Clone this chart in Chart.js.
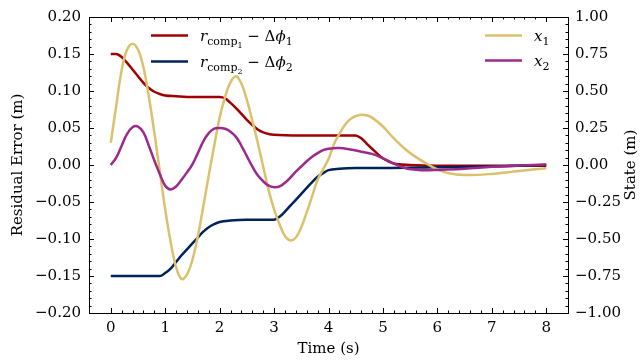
<!DOCTYPE html>
<html>
<head>
<meta charset="utf-8">
<script src="https://cdn.jsdelivr.net/npm/chart.js@4"></script>
<style>
  body { margin: 0; background: #fff; }
  #wrap { width: 644px; height: 360px; position: relative; }
</style>
</head>
<body>
<div id="wrap"><canvas id="residualChart"></canvas></div>
<script>
// tick positions
const xTicks = [0, 1, 2, 3, 4, 5, 6, 7, 8];
const leftTicks = [-0.2, -0.15, -0.1, -0.05, 0, 0.05, 0.1, 0.15, 0.2];
const rightTicks = [-1, -0.75, -0.5, -0.25, 0, 0.25, 0.5, 0.75, 1];

// r_comp1 - dphi1 (left axis)
const timeR1 = [0, 0.1, 0.2, 0.3, 0.4, 0.5, 0.6, 0.7, 0.8, 0.9, 1.0, 1.2, 1.5, 2.0, 2.1, 2.2, 2.3, 2.4, 2.5, 2.6, 2.7, 2.8, 2.9, 3.0, 3.5, 4.0, 4.5, 4.6, 4.7, 4.8, 4.9, 5.0, 5.1, 5.2, 5.5, 6, 7, 8];
const residual1 = [0.150, 0.150, 0.146, 0.138, 0.129, 0.120, 0.111, 0.104, 0.099, 0.096, 0.094, 0.093, 0.092, 0.092, 0.090, 0.084, 0.077, 0.069, 0.061, 0.054, 0.048, 0.044, 0.042, 0.041, 0.040, 0.040, 0.040, 0.036, 0.029, 0.022, 0.015, 0.009, 0.005, 0.002, 0.000, -0.001, -0.001, -0.001];

// r_comp2 - dphi2 (left axis)
const timeR2 = [0, 0.9, 1.0, 1.1, 1.2, 1.3, 1.4, 1.5, 1.6, 1.7, 1.8, 1.9, 2.0, 2.2, 2.5, 3.0, 3.1, 3.2, 3.3, 3.4, 3.5, 3.6, 3.7, 3.8, 3.9, 4.0, 4.2, 4.5, 5, 6, 7, 8];
const residual2 = [-0.150, -0.150, -0.146, -0.140, -0.131, -0.122, -0.114, -0.106, -0.098, -0.090, -0.084, -0.080, -0.077, -0.075, -0.074, -0.074, -0.070, -0.063, -0.055, -0.047, -0.039, -0.031, -0.023, -0.016, -0.011, -0.007, -0.005, -0.004, -0.004, -0.003, -0.002, 0.000];

// x1 (right axis)
const timeX1 = [0, 0.1, 0.2, 0.3, 0.4, 0.5, 0.6, 0.7, 0.8, 0.9, 1.0, 1.1, 1.2, 1.3, 1.4, 1.5, 1.6, 1.7, 1.8, 1.9, 2.0, 2.1, 2.2, 2.3, 2.4, 2.5, 2.6, 2.7, 2.8, 2.9, 3.0, 3.1, 3.2, 3.3, 3.4, 3.5, 3.6, 3.7, 3.8, 3.9, 4.0, 4.1, 4.2, 4.3, 4.4, 4.5, 4.6, 4.7, 4.8, 5.0, 5.2, 5.4, 5.6, 5.8, 6.0, 6.2, 6.5, 7.0, 7.5, 8.0];
const state1 = [0.15, 0.40, 0.64, 0.78, 0.82, 0.78, 0.66, 0.46, 0.22, -0.04, -0.30, -0.52, -0.69, -0.77, -0.74, -0.64, -0.48, -0.28, -0.07, 0.13, 0.32, 0.46, 0.56, 0.60, 0.55, 0.44, 0.30, 0.15, -0.01, -0.17, -0.30, -0.40, -0.48, -0.51, -0.49, -0.42, -0.32, -0.21, -0.10, -0.03, 0.04, 0.14, 0.21, 0.27, 0.31, 0.33, 0.34, 0.336, 0.32, 0.26, 0.18, 0.11, 0.055, 0.01, -0.03, -0.055, -0.068, -0.06, -0.04, -0.022];

// x2 (right axis)
const timeX2 = [0, 0.1, 0.2, 0.3, 0.4, 0.5, 0.6, 0.7, 0.8, 0.9, 1.0, 1.1, 1.2, 1.3, 1.4, 1.5, 1.6, 1.7, 1.8, 1.9, 2.0, 2.1, 2.2, 2.3, 2.4, 2.5, 2.6, 2.7, 2.8, 2.9, 3.0, 3.1, 3.2, 3.3, 3.4, 3.5, 3.6, 3.7, 3.8, 3.9, 4.0, 4.2, 4.4, 4.6, 4.8, 5.0, 5.2, 5.4, 5.6, 5.8, 6.0, 6.5, 7.0, 7.5, 8.0];
const state2 = [0.00, 0.05, 0.13, 0.21, 0.255, 0.26, 0.22, 0.13, 0.03, -0.06, -0.14, -0.165, -0.145, -0.10, -0.05, 0.005, 0.08, 0.16, 0.215, 0.245, 0.25, 0.245, 0.225, 0.19, 0.13, 0.06, -0.01, -0.07, -0.11, -0.14, -0.15, -0.145, -0.12, -0.085, -0.045, -0.01, 0.025, 0.055, 0.08, 0.10, 0.11, 0.115, 0.105, 0.09, 0.075, 0.045, 0.01, -0.02, -0.032, -0.036, -0.033, -0.025, -0.012, -0.004, 0.003];

const FONT = "DejaVu Serif";

function toPoints(times, vals) {
  return times.map((t, i) => ({ x: t, y: vals[i] }));
}

function fmt(v) {
  return v.toFixed(2).replace("-", "\u2212");
}

// draws a list of text pieces one after another (used for the math legend labels)
function drawMath(ctx, x, y, parts) {
  parts.forEach((p) => {
    ctx.font = (p.italic ? "italic " : "") + p.size + "px '" + FONT + "'";
    ctx.fillText(p.t, x, y + (p.dy || 0));
    x += ctx.measureText(p.t).width;
  });
}

const frameAndLabels = {
  id: "frameAndLabels",
  afterDraw(chart) {
    const ctx = chart.ctx;
    const a = chart.chartArea;
    const xs = chart.scales.x;
    const yl = chart.scales.y;
    const yr = chart.scales.y2;
    ctx.save();
    ctx.strokeStyle = "#000";
    ctx.lineWidth = 1;
    ctx.strokeRect(a.left + 0.5, a.top + 0.5, a.right - a.left, a.bottom - a.top);

    const major = 5, minor = 2.5;
    ctx.beginPath();
    // x ticks, bottom and top
    for (let v = 0; v <= 8.0001; v += 0.2) {
      const px = Math.round(xs.getPixelForValue(v)) + 0.5;
      const isMajor = Math.abs(v - Math.round(v)) < 1e-6;
      const len = isMajor ? major : minor;
      ctx.moveTo(px, a.bottom);
      ctx.lineTo(px, a.bottom - len);
      ctx.moveTo(px, a.top);
      ctx.lineTo(px, a.top + len);
    }
    // left ticks
    for (let i = -20; i <= 20; i++) {
      const v = i / 100;
      const py = Math.round(yl.getPixelForValue(v)) + 0.5;
      const len = i % 5 === 0 ? major : minor;
      ctx.moveTo(a.left, py);
      ctx.lineTo(a.left + len, py);
    }
    // right ticks
    for (let i = -20; i <= 20; i++) {
      const v = i / 20;
      const py = Math.round(yr.getPixelForValue(v)) + 0.5;
      const len = i % 5 === 0 ? major : minor;
      ctx.moveTo(a.right, py);
      ctx.lineTo(a.right - len, py);
    }
    ctx.stroke();

    // axis titles
    ctx.fillStyle = "#000";
    ctx.font = "15px '" + FONT + "'";
    ctx.textAlign = "center";
    ctx.textBaseline = "middle";
    ctx.fillText("Time (s)", (a.left + a.right) / 2, 349);
    ctx.save();
    ctx.translate(18, (a.top + a.bottom) / 2);
    ctx.rotate(-Math.PI / 2);
    ctx.fillText("Residual Error (m)", 0, 0);
    ctx.restore();
    ctx.save();
    ctx.translate(631, (a.top + a.bottom) / 2);
    ctx.rotate(-Math.PI / 2);
    ctx.fillText("State (m)", 0, 0);
    ctx.restore();

    // legends
    ctx.textAlign = "left";
    ctx.textBaseline = "alphabetic";
    const legend = [
      { color: "#a00000", x: 151, y: 35.5, parts: [
        { t: "r", italic: true, size: 15 },
        { t: "comp", size: 11, dy: 4 },
        { t: "1", size: 8, dy: 7 },
        { t: " \u2212 \u0394", size: 15 },
        { t: "\u03d5", italic: true, size: 15 },
        { t: "1", size: 11, dy: 4 }
      ] },
      { color: "#00235c", x: 151, y: 61.5, parts: [
        { t: "r", italic: true, size: 15 },
        { t: "comp", size: 11, dy: 4 },
        { t: "2", size: 8, dy: 7 },
        { t: " \u2212 \u0394", size: 15 },
        { t: "\u03d5", italic: true, size: 15 },
        { t: "2", size: 11, dy: 4 }
      ] },
      { color: "#dcc06c", x: 485, y: 35.5, parts: [
        { t: "x", italic: true, size: 15 },
        { t: "1", size: 11, dy: 4 }
      ] },
      { color: "#9c2a8a", x: 485, y: 60.5, parts: [
        { t: "x", italic: true, size: 15 },
        { t: "2", size: 11, dy: 4 }
      ] }
    ];
    legend.forEach((e) => {
      ctx.strokeStyle = e.color;
      ctx.lineWidth = 2.5;
      ctx.beginPath();
      ctx.moveTo(e.x, e.y);
      ctx.lineTo(e.x + 37, e.y);
      ctx.stroke();
      ctx.fillStyle = "#000";
      drawMath(ctx, e.x + 49, e.y + 5, e.parts);
    });
    ctx.restore();
  }
};

const tickFont = { family: FONT, size: 15 };

new Chart(document.getElementById("residualChart").getContext("2d"), {
  type: "line",
  data: {
    datasets: [
      {
        label: "r_comp1 - dphi1",
        data: toPoints(timeR1, residual1),
        borderColor: "#a00000",
        cubicInterpolationMode: "monotone",
        yAxisID: "y",
        order: 4,
      },
      {
        label: "r_comp2 - dphi2",
        data: toPoints(timeR2, residual2),
        borderColor: "#00235c",
        cubicInterpolationMode: "monotone",
        yAxisID: "y",
        order: 3,
      },
      {
        label: "x1",
        data: toPoints(timeX1, state1),
        borderColor: "#dcc06c",
        tension: 0.4,
        yAxisID: "y2",
        order: 2,
      },
      {
        label: "x2",
        data: toPoints(timeX2, state2),
        borderColor: "#9c2a8a",
        tension: 0.4,
        yAxisID: "y2",
        order: 1,
      },
    ],
  },
  options: {
    responsive: true,
    maintainAspectRatio: false,
    animation: false,
    layout: { padding: { top: 15, left: 0, right: 0, bottom: 0 } },
    elements: {
      point: { radius: 0 },
      line: { borderWidth: 2.5, fill: false },
    },
    plugins: {
      legend: { display: false },
      tooltip: { enabled: false },
    },
    scales: {
      x: {
        type: "linear",
        min: -0.4,
        max: 8.4,
        grid: { display: false, drawTicks: false },
        border: { display: false },
        afterBuildTicks: (s) => { s.ticks = xTicks.map((v) => ({ value: v })); },
        afterFit: (s) => { s.height = 47; },
        ticks: { color: "#000", font: tickFont, padding: 6, maxRotation: 0, callback: (v) => String(v) },
      },
      y: {
        type: "linear",
        position: "left",
        min: -0.2,
        max: 0.2,
        grid: { display: false, drawTicks: false },
        border: { display: false },
        afterBuildTicks: (s) => { s.ticks = leftTicks.map((v) => ({ value: v })); },
        afterFit: (s) => { s.width = 89; },
        ticks: { color: "#000", font: tickFont, padding: 8, callback: (v) => fmt(v) },
      },
      y2: {
        type: "linear",
        position: "right",
        min: -1,
        max: 1,
        grid: { display: false, drawTicks: false },
        border: { display: false },
        afterBuildTicks: (s) => { s.ticks = rightTicks.map((v) => ({ value: v })); },
        afterFit: (s) => { s.width = 76; },
        ticks: { color: "#000", font: tickFont, padding: 7, callback: (v) => fmt(v) },
      },
    },
  },
  plugins: [frameAndLabels],
});
</script>
</body>
</html>
